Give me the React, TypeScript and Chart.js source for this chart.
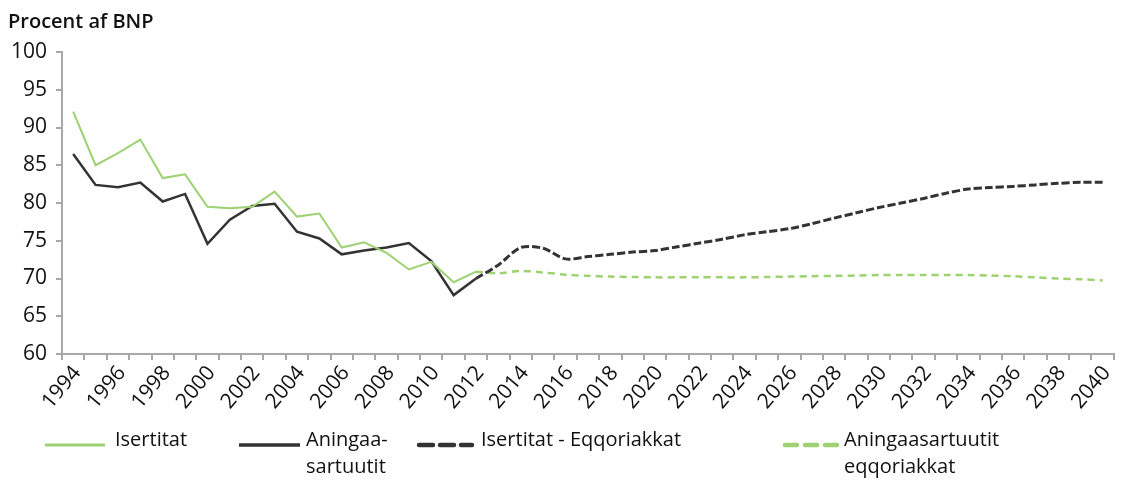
import React, { useEffect, useRef } from "react";
import { Chart, registerables } from "chart.js";

Chart.register(...registerables);

const years: string[] = [
  "1994", "1995", "1996", "1997", "1998", "1999", "2000", "2001", "2002", "2003",
  "2004", "2005", "2006", "2007", "2008", "2009", "2010", "2011", "2012", "2013",
  "2014", "2015", "2016", "2017", "2018", "2019", "2020", "2021", "2022", "2023",
  "2024", "2025", "2026", "2027", "2028", "2029", "2030", "2031", "2032", "2033",
  "2034", "2035", "2036", "2037", "2038", "2039", "2040",
];

const N = null;

// 1994-2012
const isertitat: (number | null)[] = [
  92.1, 85.0, 86.6, 88.4, 83.3, 83.8, 79.5, 79.3, 79.5, 81.5,
  78.2, 78.6, 74.1, 74.8, 73.4, 71.2, 72.2, 69.5, 70.9,
  N, N, N, N, N, N, N, N, N, N, N, N, N, N, N, N, N, N, N, N, N, N, N, N, N, N, N, N, N,
];

const aningaasartuutit: (number | null)[] = [
  86.5, 82.4, 82.1, 82.7, 80.2, 81.2, 74.6, 77.8, 79.6, 79.9,
  76.2, 75.3, 73.2, 73.7, 74.1, 74.7, 72.3, 67.8, 70.0,
  N, N, N, N, N, N, N, N, N, N, N, N, N, N, N, N, N, N, N, N, N, N, N, N, N, N, N, N, N,
];

// 2012-2040
const isertitatEqqoriakkat: (number | null)[] = [
  N, N, N, N, N, N, N, N, N, N, N, N, N, N, N, N, N, N,
  70.0, 71.8, 74.1, 74.0, 72.6, 72.9, 73.2, 73.5, 73.7, 74.2,
  74.7, 75.2, 75.8, 76.2, 76.6, 77.25, 78.0, 78.7, 79.4, 80.0,
  80.6, 81.3, 81.85, 82.05, 82.2, 82.4, 82.6, 82.75, 82.75,
];

const aningaasartuutitEqqoriakkat: (number | null)[] = [
  N, N, N, N, N, N, N, N, N, N, N, N, N, N, N, N, N, N,
  70.9, 70.7, 71.0, 70.8, 70.5, 70.35, 70.25, 70.2, 70.15, 70.15,
  70.15, 70.15, 70.15, 70.2, 70.25, 70.3, 70.35, 70.4, 70.45, 70.45,
  70.45, 70.45, 70.45, 70.4, 70.3, 70.15, 70.0, 69.9, 69.75,
];

const yTicks = { min: 60, max: 100, step: 5 };
const titleText = "Procent af BNP";

const GREEN = "#9dd172";
const BLACK = "#333333";
const AXIS = "#a8a8a8";
const FONT = "'Open Sans'";

const overlayPlugin = {
  id: "overlay",
  afterDraw(chart: any) {
    const ctx = chart.ctx as CanvasRenderingContext2D;
    ctx.save();
    ctx.fillStyle = "#111";
    ctx.textBaseline = "middle";
    ctx.textAlign = "left";
    ctx.font = `600 20px ${FONT}`;
    ctx.fillText(titleText, 8, 22);

    ctx.font = `20px ${FONT}`;
    const ly = 445;
    const drawLine = (x1: number, x2: number, color: string, dash: number[], w: number) => {
      ctx.beginPath();
      ctx.setLineDash(dash);
      ctx.strokeStyle = color;
      ctx.lineWidth = w;
      ctx.lineCap = dash.length ? "round" : "butt";
      ctx.moveTo(x1, ly);
      ctx.lineTo(x2, ly);
      ctx.stroke();
    };
    drawLine(45, 105, GREEN, [], 3);
    ctx.fillText("Isertitat", 115, 440);
    drawLine(239, 300, BLACK, [], 3.5);
    ctx.fillText("Aningaa-", 306, 440);
    ctx.fillText("sartuutit", 306, 467);
    drawLine(419, 472, BLACK, [14, 7], 4.5);
    ctx.fillText("Isertitat - Eqqoriakkat", 481, 440);
    drawLine(785, 837, GREEN, [12, 8], 4.5);
    ctx.fillText("Aningaasartuutit", 844, 440);
    ctx.fillText("eqqoriakkat", 844, 467);
    ctx.restore();
  },
};

export default function App() {
  const ref = useRef<HTMLCanvasElement | null>(null);
  useEffect(() => {
    if (!ref.current) return;
    const chart = new Chart(ref.current, {
      type: "line",
      data: {
        labels: years,
        datasets: [
          {
            label: "Isertitat",
            data: isertitat,
            borderColor: GREEN,
            borderWidth: 2,
            pointRadius: 0,
            tension: 0,
          },
          {
            label: "Aningaasartuutit",
            data: aningaasartuutit,
            borderColor: BLACK,
            borderWidth: 2.5,
            pointRadius: 0,
            tension: 0,
          },
          {
            label: "Isertitat - Eqqoriakkat",
            data: isertitatEqqoriakkat,
            borderColor: BLACK,
            borderWidth: 3,
            borderDash: [8, 3],
            pointRadius: 0,
            tension: 0.3,
          },
          {
            label: "Aningaasartuutit eqqoriakkat",
            data: aningaasartuutitEqqoriakkat,
            borderColor: GREEN,
            borderWidth: 2.5,
            borderDash: [7, 5],
            pointRadius: 0,
            tension: 0.3,
          },
        ],
      },
      options: {
        animation: false,
        responsive: false,
        maintainAspectRatio: false,
        layout: { padding: { top: 52, left: 0, right: 1, bottom: 0 } },
        plugins: {
          legend: { display: false },
          tooltip: { enabled: false },
          title: { display: false },
        },
        scales: {
          x: {
            offset: true,
            afterFit: (s: any) => {
              s.height = 127;
            },
            border: { color: AXIS, width: 2 },
            grid: {
              offset: true,
              drawOnChartArea: false,
              drawTicks: true,
              tickLength: 6,
              color: AXIS,
              lineWidth: 2,
            },
            ticks: {
              autoSkip: false,
              maxRotation: 50,
              minRotation: 50,
              padding: 1,
              labelOffset: 4,
              color: "#111",
              font: { family: FONT, size: 21 },
              callback: (_v: any, i: number) => (i % 2 === 0 ? years[i] : ""),
            },
          },
          y: {
            min: yTicks.min,
            max: yTicks.max,
            afterFit: (s: any) => {
              s.width = 62;
            },
            border: { color: AXIS, width: 2 },
            grid: {
              drawOnChartArea: false,
              drawTicks: true,
              tickLength: 6,
              color: AXIS,
              lineWidth: 2,
            },
            ticks: {
              stepSize: yTicks.step,
              padding: 9,
              color: "#111",
              font: { family: FONT, size: 21 },
            },
          },
        },
      },
      plugins: [overlayPlugin],
    });
    return () => chart.destroy();
  }, []);
  return (
    <div style={{ position: "fixed", left: 0, top: 0, width: 1123, height: 481, background: "#fff" }}>
      <canvas ref={ref} width={1123} height={481} style={{ width: 1123, height: 481, display: "block" }} />
    </div>
  );
}
